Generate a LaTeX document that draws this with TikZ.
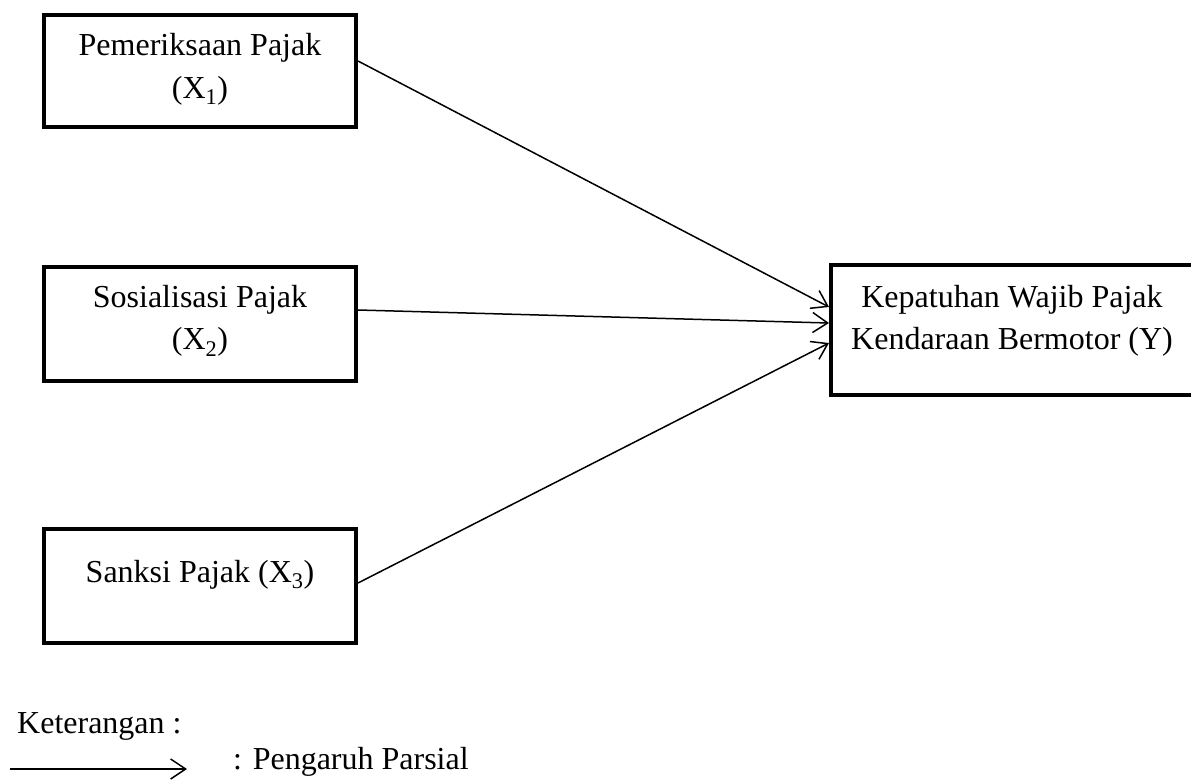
\documentclass[tikz,border=0pt]{standalone}
\usepackage{fontspec}
\setmainfont{Liberation Serif}
\usetikzlibrary{arrows.meta,positioning}

\begin{document}
\begin{tikzpicture}[x=1pt, y=-1pt,
  box/.style={draw, line width=4pt, minimum width=312pt, minimum height=114pt,
              align=center, inner sep=0pt, font=\fontsize{32}{42.5}\selectfont},
  arr/.style={-{Straight Barb[length=15pt,width=20pt]}, line width=1.5pt},
  legend/.style={inner sep=0pt, anchor=base west, font=\fontsize{32}{40}\selectfont}
]
  \useasboundingbox (0,0) rectangle (1191,780);
  \node[box, minimum height=112pt, text depth=10pt] (pemeriksaan) at (200,71)  {Pemeriksaan Pajak\\(X\textsubscript{1})};
  \node[box, text depth=13pt]      (sosialisasi) at (200,324) {Sosialisasi Pajak\\(X\textsubscript{2})};
  \node[box, text depth=30pt]      (sanksi)      at (200,586) {Sanksi Pajak (X\textsubscript{3})};
  \node[box, minimum width=362pt, minimum height=130pt, text depth=25pt] (kepatuhan) at (1012,330) {Kepatuhan Wajib Pajak\\Kendaraan Bermotor (Y)};
  \node[legend] (keterangan) at (17,733)  {Keterangan :};
  \node[legend] (pengaruh)   at (233,769) {: Pengaruh Parsial};
  \coordinate (legstart) at (10,769);
  \coordinate (legend)   at (187,769);
  \draw[arr] ([yshift=10pt]pemeriksaan.east) -- ([yshift=23pt]kepatuhan.west);
  \draw[arr] ([yshift=14pt]sosialisasi.east) -- ([yshift=7pt]kepatuhan.west);
  \draw[arr] ([yshift=3pt]sanksi.east)       -- ([yshift=-13pt]kepatuhan.west);
  \draw[arr] (legstart) -- (legend);
\end{tikzpicture}
\end{document}
